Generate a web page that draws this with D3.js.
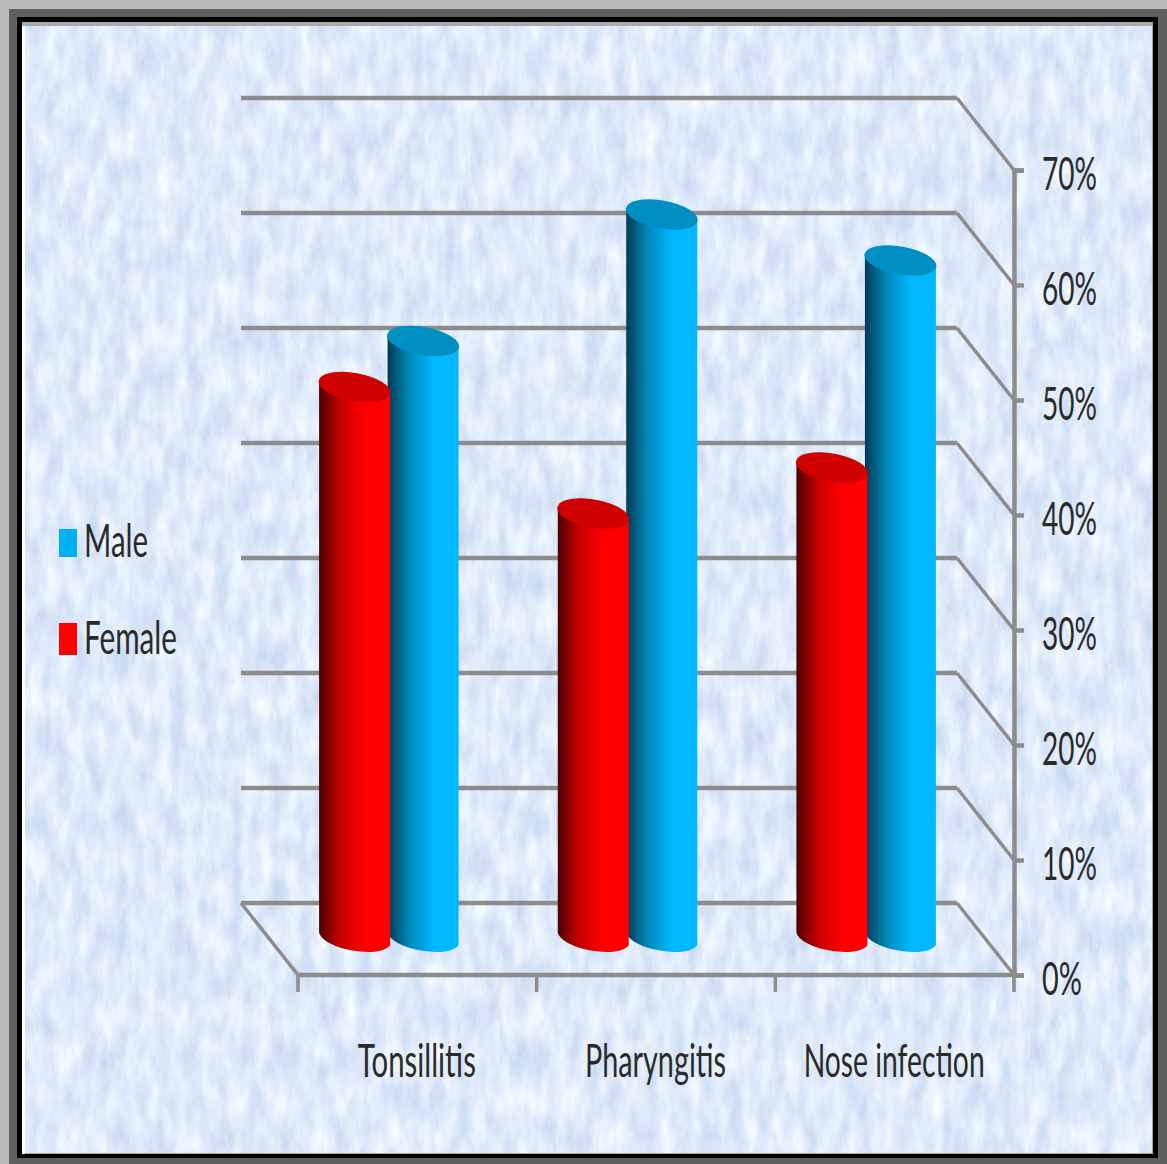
<!DOCTYPE html>
<html>
<head>
<meta charset="utf-8">
<script src="https://cdn.jsdelivr.net/npm/d3@7/dist/d3.min.js"></script>
<style>
html,body{margin:0;padding:0;background:#5f5f5f;}
svg{display:block;}
text{font-family:Lato,"Open Sans",sans-serif;fill:#2a2a2a;}
</style>
</head>
<body>
<svg id="chart" width="1167" height="1164"></svg>
<script>
// Infection rates by sex, in percent
const categories = ["Tonsillitis", "Pharyngitis", "Nose infection"];
const maleValues = [52, 63, 59];
const femaleValues = [48, 37, 41];
const yTicks = [0, 10, 20, 30, 40, 50, 60, 70];

const W = 1167, H = 1164;
const svg = d3.select("#chart");
const defs = svg.append("defs");

// Mottled paper background with a faint vertical grain
const paper = defs.append("filter").attr("id", "paper")
  .attr("x", 0).attr("y", 0).attr("width", "100%").attr("height", "100%")
  .attr("color-interpolation-filters", "sRGB");
paper.append("feTurbulence").attr("type", "fractalNoise")
  .attr("baseFrequency", "0.07 0.025").attr("numOctaves", 4).attr("seed", 11);
paper.append("feColorMatrix").attr("type", "matrix").attr("values",
  "0.24 0 0 0 0.755  0.19 0 0 0 0.825  0.09 0 0 0 0.935  0 0 0 0 1");

// Frame layers, outermost first
svg.append("rect").attr("width", W).attr("height", H).attr("fill", "#bcbcbc");
svg.append("rect").attr("x", 9).attr("y", 9).attr("width", W - 9).attr("height", H - 9).attr("fill", "#5f5f5f");
svg.append("rect").attr("x", 17).attr("y", 17).attr("width", 1141).attr("height", 1141).attr("fill", "#000");
svg.append("rect").attr("x", 22).attr("y", 22).attr("width", 1131).attr("height", 1132).attr("fill", "#a9a9a9");
svg.append("rect").attr("x", 22).attr("y", 26).attr("width", 3).attr("height", 1128).attr("fill", "#fff");
svg.append("rect").attr("x", 25).attr("y", 26).attr("width", 1127).attr("height", 1127)
  .attr("fill", "#dce9fb").attr("filter", "url(#paper)");

// Front plane of the 3-D box; the back wall sits up and to the left of it
const x = d3.scaleBand().domain(categories).range([298, 1014]);
const y = d3.scaleLinear().domain([0, 70]).range([975, 170]);
const depth = { dx: -57, dy: -72 };
const series = [
  { name: "Male", values: maleValues, light: "#00b8ff", mid: "#0088b8", dark: "#003a55", top: "#008fc2", swatch: "#00b0f0" },
  { name: "Female", values: femaleValues, light: "#ff0000", mid: "#c80000", dark: "#4a0000", top: "#cf0000", swatch: "#ff0000" }
];
const sub = d3.scaleBand().domain(["Female", "Male"]).range([-68, 69]);

series.forEach(s => {
  const g = defs.append("linearGradient").attr("id", "side" + s.name);
  [[0, s.dark], [0.3, s.mid], [0.65, s.light], [1, s.light]].forEach(([o, c]) =>
    g.append("stop").attr("offset", o).attr("stop-color", c));
});

// Gridlines run along the back wall and turn forward along the right side wall
const grid = svg.append("g").attr("fill", "none").attr("stroke", "#8c8c8c");
yTicks.forEach(v => {
  const yy = y(v);
  grid.append("path").attr("stroke-width", 4.5)
    .attr("d", d3.line()([[x.range()[0] + depth.dx, yy + depth.dy], [x.range()[1] + depth.dx, yy + depth.dy]]));
  grid.append("path").attr("stroke-width", 3.5)
    .attr("d", d3.line()([[x.range()[1] + depth.dx, yy + depth.dy], [x.range()[1], yy]]));
});
// Floor left edge and front edge
grid.append("path").attr("stroke-width", 3.5)
  .attr("d", d3.line()([[x.range()[0] + depth.dx, y(0) + depth.dy], [x.range()[0], y(0)]]));
grid.append("path").attr("stroke-width", 4.5)
  .attr("d", d3.line()([[x.range()[0], y(0)], [x.range()[1], y(0)]]));

// Category ticks at the band edges
const edges = categories.map(c => x(c)).concat(x.range()[1]);
grid.selectAll("line.cat").data(edges).join("line").attr("class", "cat")
  .attr("stroke-width", 3.5)
  .attr("x1", d => d).attr("x2", d => d)
  .attr("y1", y(0)).attr("y2", y(0) + 17);

// Right value axis
const yAxis = svg.append("g").attr("transform", `translate(${x.range()[1]},0)`)
  .call(d3.axisRight(y).tickValues(yTicks).tickSize(10).tickPadding(18).tickFormat(d => d + "%"));
yAxis.attr("font-family", null);
yAxis.select(".domain").attr("stroke", "#8c8c8c").attr("stroke-width", 4.5);
yAxis.selectAll(".tick line").attr("stroke", "#8c8c8c").attr("stroke-width", 4.5);
yAxis.selectAll(".tick text")
  .attr("font-size", 46).attr("dy", 19)
  .attr("text-anchor", "start")
  .attr("lengthAdjust", "spacingAndGlyphs")
  .attr("textLength", d => d === 0 ? 40 : 55);

// Cylinders: Male first so that Female overlaps it
const halfW = 35.5, tilt = 10, rx = 36.5, ry = 14;
const rise = Math.tan(tilt * Math.PI / 180) * halfW;
const bars = svg.append("g");
series.forEach(s => {
  s.values.forEach((v, i) => {
    const cx = x(categories[i]) + x.bandwidth() / 2 + depth.dx / 2 - 0.5 + sub(s.name) + sub.bandwidth() / 2;
    const yTop = y(v) + depth.dy / 2;
    const yBase = y(0) + depth.dy / 2;
    const arc = (x1, y1, sweep) => `A${rx},${ry} ${tilt} 0 ${sweep} ${x1},${y1}`;
    bars.append("path")
      .attr("fill", `url(#side${s.name})`)
      .attr("d", `M${cx - halfW},${yTop - rise}L${cx - halfW},${yBase - rise}` +
        arc(cx + halfW, yBase + rise, 0) +
        `L${cx + halfW},${yTop + rise}` + arc(cx - halfW, yTop - rise, 1) + "Z");
    bars.append("ellipse")
      .attr("transform", `translate(${cx},${yTop}) rotate(${tilt})`)
      .attr("rx", rx).attr("ry", ry).attr("fill", s.top);
  });
});

// Category labels
const catWidths = [118, 141, 181];
svg.selectAll("text.cat").data(categories).join("text").attr("class", "cat")
  .attr("x", d => x(d) + x.bandwidth() / 2 - 0.5)
  .attr("y", 1077)
  .attr("text-anchor", "middle")
  .attr("font-size", 46)
  .attr("textLength", (d, i) => catWidths[i])
  .attr("lengthAdjust", "spacingAndGlyphs")
  .text(d => d);

// Legend
const legendRows = [
  { s: series[0], top: 529, h: 28, base: 557, w: 64 },
  { s: series[1], top: 623, h: 32, base: 654, w: 93 }
];
const legend = svg.append("g");
legendRows.forEach(r => {
  legend.append("rect").attr("x", 59).attr("y", r.top).attr("width", 18).attr("height", r.h).attr("fill", r.s.swatch);
  legend.append("text").attr("x", 84).attr("y", r.base).attr("font-size", 46)
    .attr("textLength", r.w).attr("lengthAdjust", "spacingAndGlyphs").text(r.s.name);
});
</script>
</body>
</html>
